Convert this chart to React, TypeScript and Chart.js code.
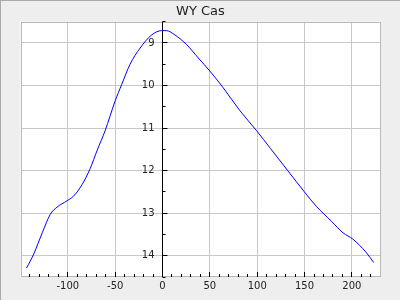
import React, { useEffect, useRef } from "react";
import { Chart, registerables } from "chart.js";

Chart.register(...registerables);

const TITLE = "WY Cas";
const phase = [-143.6, -136, -127, -118.6, -111.5, -101, -94, -85, -76.4, -69, -60.6, -50, -43, -34.3, -23.7, -11.4, -1, 4, 13, 25.5, 37.7, 50, 64, 81.7, 99.3, 114, 132.6, 149.5, 162.5, 178.4, 190.6, 201, 215, 223];
const mag = [14.29, 13.96, 13.46, 13.03, 12.86, 12.71, 12.6, 12.33, 11.95, 11.52, 11.06, 10.36, 9.97, 9.5, 9.12, 8.81, 8.71, 8.71, 8.81, 9.04, 9.35, 9.66, 10.05, 10.59, 11.06, 11.48, 12.01, 12.49, 12.84, 13.19, 13.46, 13.61, 13.92, 14.16];
const xTicks = [-100, -50, 0, 50, 100, 150, 200];
const xMinorTicks = [-140, -130, -120, -110, -90, -80, -70, -60, -40, -30, -20, -10, 10, 20, 30, 40, 60, 70, 80, 90, 110, 120, 130, 140, 160, 170, 180, 190, 210, 220];
const yTicks = [9, 10, 11, 12, 13, 14];
const yMinorTicks = [8.5, 9.5, 10.5, 11.5, 12.5, 13.5, 14.5];

const FONT = "DejaVu Sans";

const framePlugin = {
  id: "frame",
  beforeDraw(chart: any) {
    const { ctx, chartArea: a, width, height } = chart;
    ctx.save();
    ctx.fillStyle = "#eeeeee";
    ctx.fillRect(0, 0, width, height);
    ctx.fillStyle = "#aaaaaa";
    ctx.fillRect(0, 0, width, 1);
    ctx.fillRect(0, 0, 1, height);
    ctx.fillStyle = "#ffffff";
    ctx.fillRect(a.left, a.top, a.right - a.left, a.bottom - a.top);
    ctx.restore();
  },
  afterDraw(chart: any) {
    const { ctx, chartArea: a } = chart;
    const xs = chart.scales.x;
    const ys = chart.scales.y;
    ctx.save();
    ctx.strokeStyle = "#b8b8b8";
    ctx.lineWidth = 1;
    ctx.strokeRect(Math.round(a.left) + 0.5, Math.round(a.top) + 0.5, Math.round(a.right - a.left) - 1, Math.round(a.bottom - a.top) - 1);
    // y axis at x = 0
    const ax = Math.floor(xs.getPixelForValue(0)) + 0.5;
    ctx.strokeStyle = "#000000";
    ctx.beginPath();
    ctx.moveTo(ax, a.top);
    ctx.lineTo(ax, a.bottom);
    yTicks.forEach((v) => {
      const py = Math.floor(ys.getPixelForValue(v)) + 0.5;
      ctx.moveTo(ax, py);
      ctx.lineTo(ax + 5, py);
    });
    yMinorTicks.forEach((v) => {
      const py = Math.floor(ys.getPixelForValue(v)) + 0.5;
      ctx.moveTo(ax, py);
      ctx.lineTo(ax + 3, py);
    });
    const by = Math.round(a.bottom);
    xTicks.forEach((v) => {
      const px = Math.floor(xs.getPixelForValue(v)) + 0.5;
      ctx.moveTo(px, by);
      ctx.lineTo(px, by - 5);
    });
    xMinorTicks.forEach((v) => {
      const px = Math.floor(xs.getPixelForValue(v)) + 0.5;
      ctx.moveTo(px, by);
      ctx.lineTo(px, by - 3);
    });
    ctx.stroke();
    ctx.fillStyle = "#222222";
    ctx.font = `10px "${FONT}"`;
    ctx.textAlign = "right";
    ctx.textBaseline = "middle";
    yTicks.forEach((v) => {
      ctx.fillText(String(v), ax - 8, ys.getPixelForValue(v));
    });
    ctx.restore();
  },
};

export default function App() {
  const ref = useRef<HTMLCanvasElement | null>(null);
  useEffect(() => {
    document.body.style.margin = "0";
    const canvas = ref.current;
    if (!canvas) return;
    const chart = new Chart(canvas, {
      type: "line",
      data: {
        datasets: [
          {
            data: phase.map((p, i) => ({ x: p, y: mag[i] })),
            borderColor: "#0000ff",
            borderWidth: 1,
            pointRadius: 0,
            cubicInterpolationMode: "monotone",
            fill: false,
          },
        ],
      },
      options: {
        responsive: false,
        animation: false,
        layout: { padding: { left: 20.5, right: 19.7, top: 0, bottom: 5 } },
        plugins: {
          legend: { display: false },
          tooltip: { enabled: false },
          title: {
            display: true,
            text: TITLE,
            color: "#222222",
            font: { family: FONT, size: 13, weight: "normal" },
            padding: { top: 3.6, bottom: 2.5 },
          },
        },
        scales: {
          x: {
            type: "linear",
            min: -150,
            max: 230,
            afterBuildTicks: (s: any) => {
              s.ticks = xTicks.map((v) => ({ value: v }));
            },
            grid: { color: "#c8c8c8", drawTicks: false, lineWidth: 1 },
            border: { display: false },
            ticks: {
              autoSkip: false,
              maxRotation: 0,
              padding: 3,
              color: "#222222",
              font: { family: FONT, size: 10 },
            },
          },
          y: {
            type: "linear",
            reverse: true,
            min: 8.5,
            max: 14.5,
            afterBuildTicks: (s: any) => {
              s.ticks = yTicks.map((v) => ({ value: v }));
            },
            grid: { color: "#c8c8c8", drawTicks: false, lineWidth: 1 },
            border: { display: false },
            ticks: { display: false },
          },
        },
      } as any,
      plugins: [framePlugin],
    });
    return () => chart.destroy();
  }, []);
  return (
    <div style={{ position: "absolute", left: 0, top: 0, width: 400, height: 300 }}>
      <canvas ref={ref} width={400} height={300} style={{ display: "block" }} />
    </div>
  );
}
